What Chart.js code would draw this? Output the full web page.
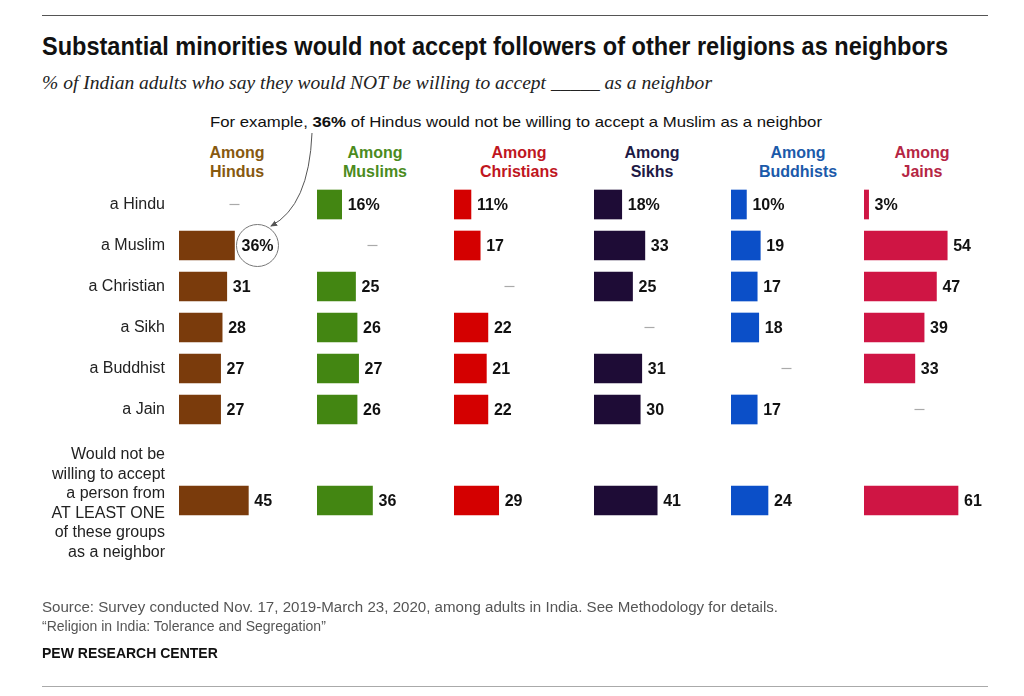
<!DOCTYPE html>
<html><head><meta charset="utf-8">
<script src="https://cdn.jsdelivr.net/npm/chart.js@4"></script>
<style>
html,body{margin:0;padding:0;background:#fff;}
body{width:1024px;height:696px;overflow:hidden;position:relative;font-family:'Liberation Sans',Arial,sans-serif;color:#111;}
.abs{position:absolute;white-space:nowrap;}
.rule{position:absolute;left:42px;width:946px;height:1px;}
#title{left:42px;top:34px;font-size:25px;line-height:25px;font-weight:bold;color:#111;transform-origin:0 0;}
#subtitle{left:42px;top:74px;font-size:18px;line-height:18px;font-family:'Liberation Serif','Times New Roman',serif;font-style:italic;color:#222;transform-origin:0 0;}
#note{left:210px;top:114px;font-size:15px;line-height:15px;color:#111;transform-origin:0 0;}
.hdr{position:absolute;top:143px;font-size:16px;line-height:19px;font-weight:bold;text-align:center;width:140px;}
canvas{position:absolute;}
.foot{left:42px;font-size:14px;line-height:14px;color:#555;transform-origin:0 0;}
#pew{left:42px;top:646px;font-size:14px;line-height:14px;font-weight:bold;color:#111;}
</style></head>
<body>
<div class="rule" style="top:15px;background:#555"></div>
<div id="title" class="abs">Substantial minorities would not accept followers of other religions as neighbors</div>
<div id="subtitle" class="abs">% of Indian adults who say they would NOT be willing to accept _____ as a neighbor</div>
<div id="note" class="abs">For example, <b>36%</b> of Hindus would not be willing to accept a Muslim as a neighbor</div>
<div id="headers"></div>
<div id="charts"></div>
<svg class="abs" style="left:0;top:0" width="1024" height="696">
  <defs><marker id="ah" markerWidth="8" markerHeight="8" refX="6" refY="3" orient="auto" markerUnits="userSpaceOnUse">
    <path d="M0,0 L7,3 L0,6 Z" fill="#555"/></marker></defs>
  <path d="M312,133 Q309,206 271,226" fill="none" stroke="#555" stroke-width="1" marker-end="url(#ah)"/>
</svg>
<div id="foot1" class="abs foot" style="top:600px">Source: Survey conducted Nov. 17, 2019-March 23, 2020, among adults in India. See Methodology for details.</div>
<div id="foot2" class="abs foot" style="top:619px">“Religion in India: Tolerance and Segregation”</div>
<div id="pew" class="abs">PEW RESEARCH CENTER</div>
<div class="rule" style="top:686px;background:#aaa"></div>
<script>
// ---- data ----
const rowLabels = ['a Hindu','a Muslim','a Christian','a Sikh','a Buddhist','a Jain'];
const summaryLabel = ['Would not be','willing to accept','a person from','AT LEAST ONE','of these groups','as a neighbor'];
const groupNames = ['Hindus','Muslims','Christians','Sikhs','Buddhists','Jains'];
const amongHindus = [null,36,31,28,27,27];
const amongMuslims = [16,null,25,26,27,26];
const amongChristians = [11,17,null,22,21,22];
const amongSikhs = [18,33,25,null,31,30];
const amongBuddhists = [10,19,17,18,null,17];
const amongJains = [3,54,47,39,33,null];
const atLeastOne = [45,36,29,41,24,61];

// ---- styles / layout ----
const seriesByGroup = [amongHindus,amongMuslims,amongChristians,amongSikhs,amongBuddhists,amongJains];
const barColors = ['#7a3b0c','#438612','#d40000','#1e0c36','#0b4fc8','#cf1544'];
const headColors = ['#87590f','#4b8b1d','#c0161e','#1e1a45','#1b5aaa','#b52644'];
const colStart = [179,317,454,594,731,864];
const headCenter = [237,375,519,652,798,922];
const COLW = 131, XMAX = 85, LABELW = 179;
const FONT = "'Liberation Sans', Arial, sans-serif";

Chart.defaults.font.family = FONT;
Chart.defaults.animation = false;

// headers
const hd = document.getElementById('headers');
groupNames.forEach((g,i)=>{
  const d=document.createElement('div'); d.className='hdr';
  d.style.left=(headCenter[i]-70)+'px'; d.style.color=headColors[i];
  d.innerHTML='Among<br>'+g; hd.appendChild(d);
});

const valuePlugin = {
  id:'valueLabels',
  afterDatasetsDraw(chart, args, opts){
    const ctx=chart.ctx, ds=chart.data.datasets[0];
    const xs=chart.scales.x, ys=chart.scales.y;
    const firstIdx = ds.data.findIndex(v=>v!=null);
    ctx.save();
    ctx.textBaseline='middle'; ctx.textAlign='left';
    ds.data.forEach((v,i)=>{
      const y=ys.getPixelForValue(i);
      if(v==null){
        const x=xs.getPixelForValue(opts.dashAt);
        ctx.strokeStyle='#aaa'; ctx.lineWidth=1.2;
        ctx.beginPath(); ctx.moveTo(x-5,y); ctx.lineTo(x+5,y); ctx.stroke();
        return;
      }
      const txt = v + (opts.pct && i===firstIdx ? '%' : '');
      ctx.font="bold 16px "+FONT; ctx.fillStyle='#111';
      const x0 = xs.getPixelForValue(v) + (opts.circle===i ? 7 : 6);
      ctx.fillText(txt, x0, y+1);
      if(opts.circle===i){
        const w=ctx.measureText(txt).width;
        ctx.strokeStyle='#777'; ctx.lineWidth=1;
        ctx.beginPath(); ctx.arc(x0+w/2, y, 21, 0, Math.PI*2); ctx.stroke();
      }
    });
    ctx.restore();
  }
};

function makeChart(left, top, height, labels, data, color, withLabels, opts, lineH){
  const c=document.createElement('canvas');
  const w = withLabels ? LABELW+COLW : COLW;
  c.width=w; c.height=height;
  c.style.left=(withLabels?0:left)+'px'; c.style.top=top+'px';
  c.style.width=w+'px'; c.style.height=height+'px';
  document.getElementById('charts').appendChild(c);
  const yScale = {display:withLabels, grid:{display:false,drawTicks:false}, border:{display:false},
     ticks:{padding:14,color:'#222',font:{size:16,lineHeight:lineH||1.2},labelOffset:opts.labelOffset||0}};
  if(withLabels){
    yScale.afterFit = function(s){ s.width=LABELW; s.paddingTop=0; s.paddingBottom=0; };
  }
  return new Chart(c,{
    type:'bar',
    data:{labels:labels,datasets:[{data:data,backgroundColor:color,barThickness:29,borderWidth:0}]},
    options:{
      indexAxis:'y', responsive:false, maintainAspectRatio:false,
      layout:{padding:0},
      plugins:{legend:{display:false},tooltip:{enabled:false},valueLabels:opts},
      scales:{ x:{display:false,min:0,max:XMAX}, y:yScale }
    },
    plugins:[valuePlugin]
  });
}

seriesByGroup.forEach((vals,i)=>{
  makeChart(colStart[i],184,246,rowLabels,vals,barColors[i],i===0,
    {pct:true,dashAt:36,circle:i===0?1:-1});
  makeChart(colStart[i],435,131,[summaryLabel],[atLeastOne[i]],barColors[i],i===0,
    {pct:false,dashAt:36,circle:-1,labelOffset:3},1.22);
});

// fit text widths to the reference
function fit(id,w){const e=document.getElementById(id);const r=e.getBoundingClientRect().width;e.style.transform='scaleX('+(w/r)+')';}
fit('title',906); fit('subtitle',670); fit('note',612); fit('foot1',736);
</script>
</body></html>
